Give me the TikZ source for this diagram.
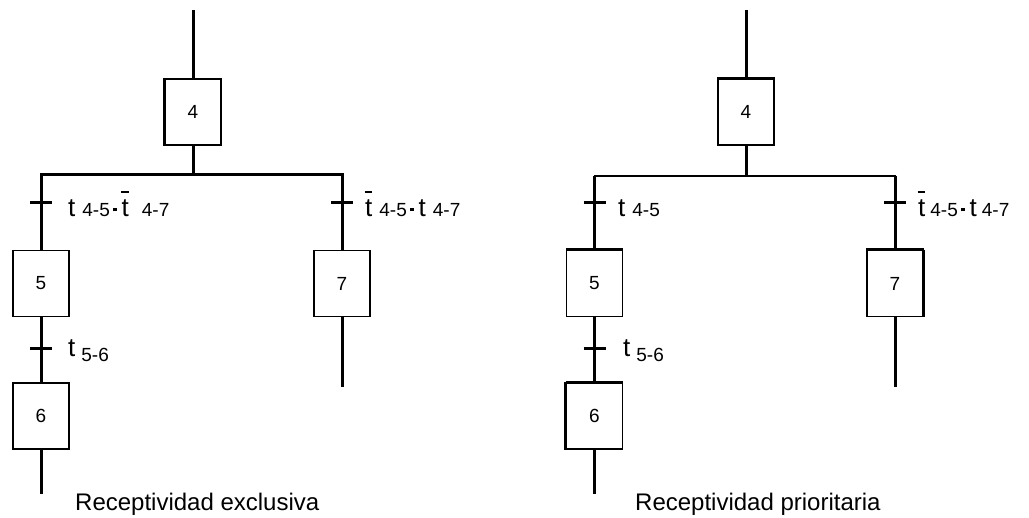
\documentclass[tikz,border=0pt]{standalone}
\usepackage{fontspec}
\setmainfont{Liberation Sans}
\newcommand{\subt}[1]{{\fontsize{19}{19}\selectfont #1}}
\newcommand{\tbar}{\leavevmode\rlap{\hspace{-0.5pt}\raisebox{24pt}{\rule{7.5pt}{2.2pt}}}t}
\newcommand{\pdot}{\raisebox{5.5pt}{\rule{3.8pt}{3.8pt}}}
\begin{document}
\begin{tikzpicture}[x=1pt,y=-1pt,
  stepbox/.style={draw,line width=1.3pt,minimum width=56pt,minimum height=66pt,inner sep=0pt,font=\fontsize{19}{19}\selectfont},
  flow/.style={line width=3pt},
  thinbar/.style={line width=1.6pt},
  edge/.style={line width=3pt},
  tick/.style={line width=3pt},
  lbl/.style={anchor=base west,inner sep=0pt,font=\fontsize{26}{26}\selectfont},
  caption/.style={anchor=base west,inner sep=0pt,font=\fontsize{24}{24}\selectfont}]
\useasboundingbox (0,0) rectangle (1029,518);
% ---------------- left diagram ----------------
\node[stepbox] (L4) at (193,112) {4};
\node[stepbox] (L5) at (41,283.5) {5};
\node[stepbox] (L6) at (41,416) {6};
\node[stepbox] (L7) at (342,283.5) {7};
\coordinate (Ltop) at (193,10);
\coordinate (Lj) at (193,175);
\coordinate (Lbl) at (41,175);
\coordinate (Lbr) at (342,175);
\coordinate (Lt45) at (41,203);
\coordinate (Lt47) at (342,203);
\coordinate (Lt56) at (41,349);
\coordinate (Lend6) at (41,494);
\coordinate (Lend7) at (342,387);
\draw[flow] (Ltop) -- (L4.north);
\draw[flow] (L4.south) -- (Lj);
\draw[flow,line cap=rect] (Lbl) -- (Lbr);
\draw[flow] (Lbl) -- (L5.north);
\draw[flow] (Lbr) -- (L7.north);
\draw[flow] (L5.south) -- (L6.north);
\draw[flow] (L6.south) -- (Lend6);
\draw[flow] (L7.south) -- (Lend7);
\draw[edge] (L4.north west) -- (L4.south west);
\draw[tick] ([xshift=-11pt]Lt45) -- ([xshift=11pt]Lt45);
\draw[tick] ([xshift=-11pt]Lt47) -- ([xshift=11pt]Lt47);
\draw[tick] ([xshift=-11pt]Lt56) -- ([xshift=11pt]Lt56);
\node[lbl] (La) at (68,217) {t\hspace{7pt}\subt{4-5}\hspace{3pt}\pdot\hspace{5pt}\tbar\hspace{13pt}\subt{4-7}};
\node[lbl] (Lb) at (365,217) {\tbar\hspace{7pt}\subt{4-5}\hspace{3pt}\pdot\hspace{5pt}t\hspace{7pt}\subt{4-7}};
\node[lbl] (Lc) at (68,357) {t\hspace{6pt}\raisebox{-5pt}{\subt{5-6}}};
\node[caption] (Lcap) at (75,511) {Receptividad exclusiva};
% ---------------- right diagram ----------------
\node[stepbox] (R4) at (746,112) {4};
\node[stepbox] (R5) at (594.5,283.5) {5};
\node[stepbox] (R6) at (594.5,416) {6};
\node[stepbox] (R7) at (895,283.5) {7};
\coordinate (Rtop) at (746,10);
\coordinate (Rj) at (746,176);
\coordinate (Rbl) at (594.5,176);
\coordinate (Rbr) at (895,176);
\coordinate (Rt45) at (594.5,203);
\coordinate (Rt47) at (895,203);
\coordinate (Rt56) at (594.5,349);
\coordinate (Rend6) at (594.5,494);
\coordinate (Rend7) at (895,387);
\draw[flow] (Rtop) -- (R4.north);
\draw[flow] (R4.south) -- (Rj);
\draw[thinbar,line cap=rect] (Rbl) -- (Rbr);
\draw[flow] (Rbl) -- (R5.north);
\draw[flow] (Rbr) -- (R7.north);
\draw[flow] (R5.south) -- (R6.north);
\draw[flow] (R6.south) -- (Rend6);
\draw[flow] (R7.south) -- (Rend7);
\draw[edge] (R4.north west) -- (R4.north east);
\draw[edge] (R5.north west) -- (R5.north east);
\draw[edge] (R7.north west) -- (R7.north east);
\draw[edge] (R7.north east) -- (R7.south east);
\draw[edge] (R6.north west) -- (R6.north east);
\draw[edge] (R6.north west) -- (R6.south west);
\draw[tick] ([xshift=-11pt]Rt45) -- ([xshift=11pt]Rt45);
\draw[tick] ([xshift=-11pt]Rt47) -- ([xshift=11pt]Rt47);
\draw[tick] ([xshift=-11pt]Rt56) -- ([xshift=11pt]Rt56);
\node[lbl] (Ra) at (618,217) {t\hspace{7pt}\subt{4-5}};
\node[lbl] (Rb) at (918,217) {\tbar\hspace{5pt}\subt{4-5}\hspace{3pt}\pdot\hspace{5pt}t\hspace{5pt}\subt{4-7}};
\node[lbl] (Rc) at (623,357) {t\hspace{6pt}\raisebox{-5pt}{\subt{5-6}}};
\node[caption] (Rcap) at (635,511) {Receptividad prioritaria};
\end{tikzpicture}
\end{document}
